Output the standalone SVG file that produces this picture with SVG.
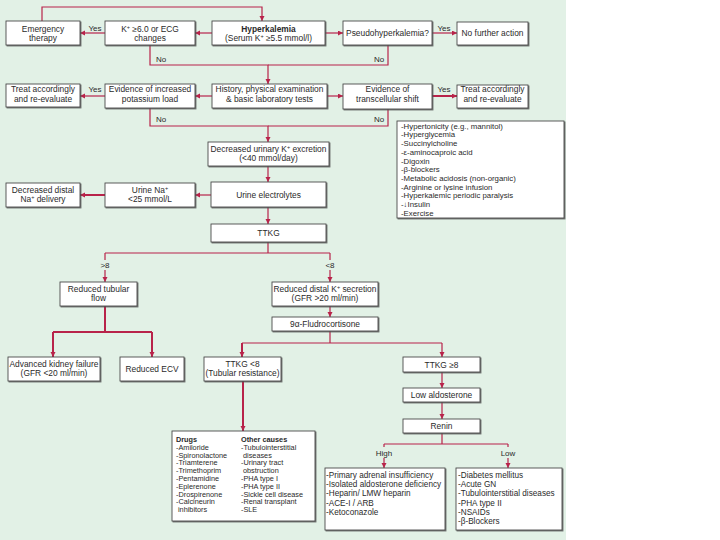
<svg xmlns="http://www.w3.org/2000/svg" width="720" height="540" viewBox="0 0 720 540">
<style>
.bg{fill:#e2f1e6}
.box{fill:#ffffff;stroke:#4a4a4a;stroke-width:0.9;filter:url(#sh)}
.t{font-family:"Liberation Sans",Arial,sans-serif;font-size:8.4px;fill:#2a2a2a;text-anchor:middle}
.l{font-family:"Liberation Sans",Arial,sans-serif;font-size:8.2px;fill:#2a2a2a;text-anchor:start}
.s{font-family:"Liberation Sans",Arial,sans-serif;font-size:7.8px;fill:#2a2a2a;text-anchor:start}
.d{font-family:"Liberation Sans",Arial,sans-serif;font-size:7.3px;fill:#2a2a2a;text-anchor:start}
.b{font-weight:bold}
.lab{font-family:"Liberation Sans",Arial,sans-serif;font-size:8px;fill:#2a2a2a;text-anchor:middle}
.c{fill:none;stroke:#b8234a;stroke-width:1.2}
.ca{fill:none;stroke:#b8234a;stroke-width:1.2;marker-end:url(#ah)}
.ct{fill:none;stroke:#b8234a;stroke-width:2;marker-end:url(#ah)}
.ctn{fill:none;stroke:#b8234a;stroke-width:2}
.sup{font-size:5.5px}
</style>
<defs>
<filter id="sh" x="-5%" y="-5%" width="115%" height="130%">
<feDropShadow dx="1" dy="1" stdDeviation="0.4" flood-color="#555" flood-opacity="0.8"/>
</filter>
<marker id="ah" markerUnits="userSpaceOnUse" markerWidth="6" markerHeight="6" refX="5" refY="2.5" orient="auto">
<path d="M0,0 L5,2.5 L0,5 z" fill="#b8234a"/>
</marker>
</defs>
<rect class="bg" x="0" y="0" width="566" height="540"/>

<g id="connectors">
<path class="ca" d="M42,21 V7 H262 V21"/>
<path class="ca" d="M212,33 H195"/>
<path class="ca" d="M105,33 H80"/>
<path class="ca" d="M325,33 H343"/>
<path class="ca" d="M432,33 H457"/>
<path class="ca" d="M150,45 V65 H268 V84"/>
<path class="c" d="M388,45 V65 H268"/>
<path class="ca" d="M212,96 H195"/>
<path class="ca" d="M105,96 H80"/>
<path class="ca" d="M327,96 H343"/>
<path class="ct" d="M432,96 H457"/>
<path class="ca" d="M150,108 V126 H268 V142"/>
<path class="c" d="M388,109 V126 H268"/>
<path class="ca" d="M268,166 V182"/>
<path class="ca" d="M211,195 H195"/>
<path class="ct" d="M105,195 H80"/>
<path class="ca" d="M268,207 V224"/>
<path class="c" d="M268,242 V253 M105,253 H330 M105,253 V260 M330,253 V260"/>
<path class="ca" d="M105,270 V282"/>
<path class="ca" d="M330,270 V282"/>
<path class="ca" d="M330,306 V317"/>
<path class="ctn" d="M105,306 V332 M53,332 H152"/>
<path class="ct" d="M53,332 V357"/>
<path class="ct" d="M152,332 V357"/>
<path class="c" d="M330,331 V343 M242,343 H442"/>
<path class="ct" d="M242,343 V357"/>
<path class="ca" d="M442,343 V357"/>
<path class="ct" d="M243,381 V431"/>
<path class="ca" d="M442,372 V388"/>
<path class="ca" d="M442,402 V419"/>
<path class="c" d="M442,433 V444 M384,444 H508 M384,444 V447 M508,444 V447"/>
<path class="ca" d="M384,458 V468"/>
<path class="ca" d="M508,458 V468"/>
<text class="lab" x="95" y="31">Yes</text>
<text class="lab" x="444" y="31">Yes</text>
<text class="lab" x="95" y="92">Yes</text>
<text class="lab" x="444" y="92">Yes</text>
<text class="lab" x="161" y="62">No</text>
<text class="lab" x="379" y="62">No</text>
<text class="lab" x="161" y="122">No</text>
<text class="lab" x="379" y="122">No</text>
<text class="lab" x="105" y="268">&gt;8</text>
<text class="lab" x="330" y="268">&lt;8</text>
<text class="lab" x="384" y="456">High</text>
<text class="lab" x="508" y="456">Low</text>
</g>

<g id="emergency">
<rect class="box" x="6" y="21" width="74" height="24"/>
<text class="t" x="43" y="32">Emergency</text>
<text class="t" x="43" y="41">therapy</text>
</g>
<g id="k-ecg">
<rect class="box" x="105" y="21" width="90" height="24"/>
<text class="t" x="150" y="32">K<tspan class="sup" baseline-shift="super">+</tspan> ≥6.0 or ECG</text>
<text class="t" x="150" y="41">changes</text>
</g>
<g id="hyperkalemia">
<rect class="box" x="212" y="21" width="113" height="24"/>
<text class="t b" x="268.5" y="32">Hyperkalemia</text>
<text class="t" x="268.5" y="41">(Serum K<tspan class="sup" baseline-shift="super">+</tspan> ≥5.5 mmol/l)</text>
</g>
<g id="pseudo">
<rect class="box" x="343" y="21" width="89" height="24"/>
<text class="t" x="387.5" y="36">Pseudohyperkalemia?</text>
</g>
<g id="no-further">
<rect class="box" x="457" y="22" width="71" height="23"/>
<text class="t" x="492.5" y="36">No further action</text>
</g>

<g id="treat-left">
<rect class="box" x="6" y="84" width="74" height="23"/>
<text class="t" x="43" y="92">Treat accordingly</text>
<text class="t" x="43" y="102">and re-evaluate</text>
</g>
<g id="potassium-load">
<rect class="box" x="105" y="84" width="90" height="24"/>
<text class="t" x="150" y="92">Evidence of increased</text>
<text class="t" x="150" y="102">potassium load</text>
</g>
<g id="history">
<rect class="box" x="212" y="84" width="115" height="24"/>
<text class="t" x="269.5" y="92">History, physical examination</text>
<text class="t" x="269.5" y="102">&amp; basic laboratory tests</text>
</g>
<g id="transcellular">
<rect class="box" x="343" y="84" width="89" height="25"/>
<text class="t" x="387.5" y="92">Evidence of</text>
<text class="t" x="387.5" y="102">transcellular shift</text>
</g>
<g id="treat-right">
<rect class="box" x="457" y="85" width="71" height="23"/>
<text class="t" x="492.5" y="92">Treat accordingly</text>
<text class="t" x="492.5" y="102">and re-evaluate</text>
</g>

<g id="transcellular-list">
<rect class="box" x="397" y="121" width="167" height="97"/>
<text class="s" x="401" y="128.7">-Hypertonicity (e.g., mannitol)</text>
<text class="s" x="401" y="137.4">-Hyperglycemia</text>
<text class="s" x="401" y="146.1">-Succinylcholine</text>
<text class="s" x="401" y="154.8">-ε-aminocaproic acid</text>
<text class="s" x="401" y="163.5">-Digoxin</text>
<text class="s" x="401" y="172.2">-β-blockers</text>
<text class="s" x="401" y="180.9">-Metabolic acidosis (non-organic)</text>
<text class="s" x="401" y="189.6">-Arginine or lysine infusion</text>
<text class="s" x="401" y="198.3">-Hyperkalemic periodic paralysis</text>
<text class="s" x="401" y="207">-↓Insulin</text>
<text class="s" x="401" y="215.7">-Exercise</text>
</g>

<g id="decreased-urinary">
<rect class="box" x="208" y="142" width="121" height="24"/>
<text class="t" x="268.5" y="152">Decreased urinary K<tspan class="sup" baseline-shift="super">+</tspan> excretion</text>
<text class="t" x="268.5" y="161">(&lt;40 mmol/day)</text>
</g>
<g id="urine-electrolytes">
<rect class="box" x="211" y="182" width="115" height="25"/>
<text class="t" x="268.5" y="197.5">Urine electrolytes</text>
</g>
<g id="urine-na">
<rect class="box" x="105" y="183" width="90" height="24"/>
<text class="t" x="150" y="193">Urine Na<tspan class="sup" baseline-shift="super">+</tspan></text>
<text class="t" x="150" y="202">&lt;25 mmol/L</text>
</g>
<g id="decreased-distal">
<rect class="box" x="6" y="183" width="74" height="24"/>
<text class="t" x="43" y="193">Decreased distal</text>
<text class="t" x="43" y="202">Na<tspan class="sup" baseline-shift="super">+</tspan> delivery</text>
</g>
<g id="ttkg">
<rect class="box" x="211" y="224" width="115" height="18"/>
<text class="t" x="268.5" y="236">TTKG</text>
</g>

<g id="reduced-tubular">
<rect class="box" x="60" y="282" width="77" height="24"/>
<text class="t" x="98.5" y="292">Reduced tubular</text>
<text class="t" x="98.5" y="301">flow</text>
</g>
<g id="reduced-distal">
<rect class="box" x="272" y="282" width="106" height="24"/>
<text class="t" x="325" y="292">Reduced distal K<tspan class="sup" baseline-shift="super">+</tspan> secretion</text>
<text class="t" x="325" y="301">(GFR &gt;20 ml/min)</text>
</g>
<g id="fludrocortisone">
<rect class="box" x="272" y="317" width="106" height="14"/>
<text class="t" x="325" y="327">9α-Fludrocortisone</text>
</g>
<g id="advanced-kidney">
<rect class="box" x="8" y="357" width="92" height="24"/>
<text class="t" x="54" y="367">Advanced kidney failure</text>
<text class="t" x="54" y="376">(GFR &lt;20 ml/min)</text>
</g>
<g id="reduced-ecv">
<rect class="box" x="120" y="357" width="64" height="24"/>
<text class="t" x="152" y="372">Reduced ECV</text>
</g>
<g id="ttkg-lt8">
<rect class="box" x="204" y="357" width="77" height="24"/>
<text class="t" x="242.5" y="367">TTKG &lt;8</text>
<text class="t" x="242.5" y="376">(Tubular resistance)</text>
</g>
<g id="ttkg-ge8">
<rect class="box" x="403" y="357" width="77" height="15"/>
<text class="t" x="441.5" y="367.5">TTKG ≥8</text>
</g>
<g id="low-aldosterone">
<rect class="box" x="403" y="388" width="77" height="14"/>
<text class="t" x="441.5" y="398">Low aldosterone</text>
</g>
<g id="renin">
<rect class="box" x="403" y="419" width="77" height="14"/>
<text class="t" x="441.5" y="429">Renin</text>
</g>

<g id="drugs">
<rect class="box" x="172" y="431" width="143" height="90"/>
<text class="d b" x="176" y="442">Drugs</text>
<text class="d" x="176" y="449.8">-Amiloride</text>
<text class="d" x="176" y="457.6">-Spironolactone</text>
<text class="d" x="176" y="465.4">-Triamterene</text>
<text class="d" x="176" y="473.2">-Trimethoprim</text>
<text class="d" x="176" y="481">-Pentamidine</text>
<text class="d" x="176" y="488.8">-Eplerenone</text>
<text class="d" x="176" y="496.6">-Drospirenone</text>
<text class="d" x="176" y="504.4">-Calcineurin</text>
<text class="d" x="178" y="512.2">inhibitors</text>
<text class="d b" x="241" y="442">Other causes</text>
<text class="d" x="241" y="449.8">-Tubulointerstitial</text>
<text class="d" x="243" y="457.6">diseases</text>
<text class="d" x="241" y="465.4">-Urinary tract</text>
<text class="d" x="243" y="473.2">obstruction</text>
<text class="d" x="241" y="481">-PHA type I</text>
<text class="d" x="241" y="488.8">-PHA type II</text>
<text class="d" x="241" y="496.6">-Sickle cell disease</text>
<text class="d" x="241" y="504.4">-Renal transplant</text>
<text class="d" x="241" y="512.2">-SLE</text>
</g>

<g id="high-renin">
<rect class="box" x="325" y="468" width="120" height="62"/>
<text class="l" x="326" y="478">-Primary adrenal insufficiency</text>
<text class="l" x="326" y="487.2">-Isolated aldosterone deficiency</text>
<text class="l" x="326" y="496.4">-Heparin/ LMW heparin</text>
<text class="l" x="326" y="505.6">-ACE-I / ARB</text>
<text class="l" x="326" y="514.8">-Ketoconazole</text>
</g>
<g id="low-renin">
<rect class="box" x="456" y="468" width="106" height="62"/>
<text class="l" x="458" y="478">-Diabetes mellitus</text>
<text class="l" x="458" y="487.2">-Acute GN</text>
<text class="l" x="458" y="496.4">-Tubulointerstitial diseases</text>
<text class="l" x="458" y="505.6">-PHA type II</text>
<text class="l" x="458" y="514.8">-NSAIDs</text>
<text class="l" x="458" y="524">-β-Blockers</text>
</g>
</svg>
